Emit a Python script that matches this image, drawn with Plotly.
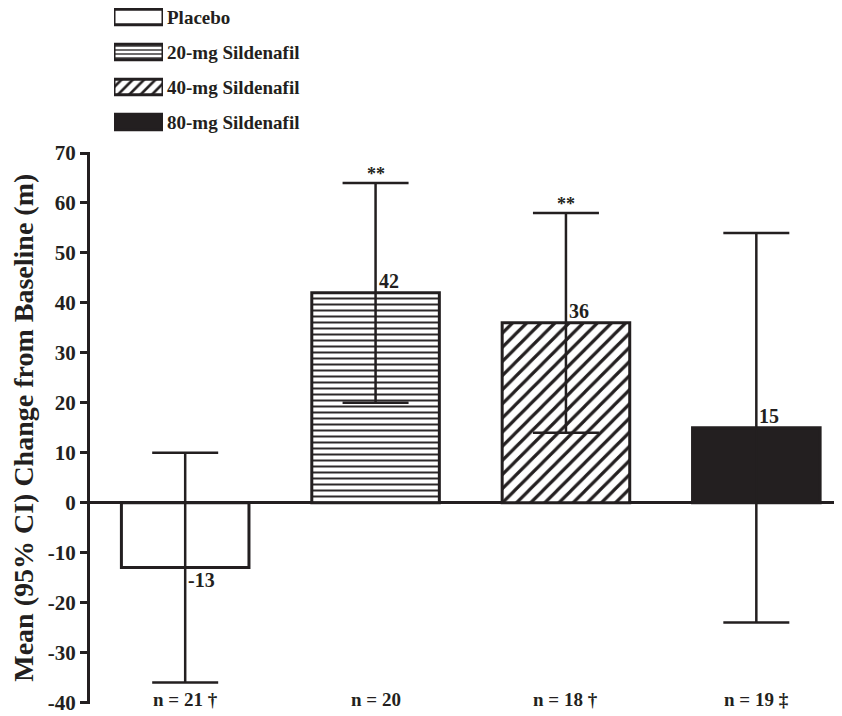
import plotly.graph_objects as go

# ---- data ----
groups = ["Placebo", "20-mg Sildenafil", "40-mg Sildenafil", "80-mg Sildenafil"]
means = [-13, 42, 36, 15]
ci_low = [-36, 20, 14, -24]
ci_high = [10, 64, 58, 54]
n_labels = ["n = 21 †", "n = 20", "n = 18 †", "n = 19 ‡"]
sig_marks = ["", "**", "**", ""]
y_ticks = [-40, -30, -20, -10, 0, 10, 20, 30, 40, 50, 60, 70]
y_tick_text = [str(v) for v in y_ticks]

# ---- styles ----
INK = "#231f20"
FONT = "Liberation Serif"
fill_colors = ["white", "white", "white", INK]
pattern_shapes = ["", "-", "/", ""]
pattern_sizes = [6, 6, 10, 6]

# page body adds an 8px offset; the figure fills the rest of the window
OFF = 8
W, H = 842 - OFF, 716 - OFF
ML, MR, MT, MB = 90 - OFF, 0, 0, 716 - 704
plot_w = W - ML - MR
plot_h = H - MT - MB


def py(screen_y):
    return (H - MB - (screen_y - OFF)) / plot_h


def px(screen_x):
    return (screen_x - OFF - ML) / plot_w


fig = go.Figure()

for g, m, lo, hi, col, shp, sz in zip(groups, means, ci_low, ci_high,
                                     fill_colors, pattern_shapes, pattern_sizes):
    pat = dict(shape=shp, fgcolor=INK, bgcolor="white", fillmode="replace",
               size=sz, solidity=0.32) if shp else dict(shape="")
    fig.add_trace(go.Bar(
        x=[g], y=[m], width=0.67,
        marker=dict(color=col, line=dict(color=INK, width=3), pattern=pat),
        error_y=dict(type="data", array=[hi - m], arrayminus=[m - lo],
                     color=INK, thickness=2.5, width=33, visible=True),
        showlegend=False, xaxis="x", yaxis="y",
    ))
    pat2 = dict(shape=shp, fgcolor=INK, bgcolor="white", fillmode="replace",
                size=max(sz - 2, 4), solidity=0.33) if shp else dict(shape="")
    fig.add_trace(go.Bar(
        x=[1], y=[g], orientation="h", width=0.44,
        marker=dict(color=col, line=dict(color=INK, width=3), pattern=pat2),
        showlegend=False, xaxis="x2", yaxis="y2", hoverinfo="skip",
    ))

annotations = []
for g, m, hi, s, n in zip(groups, means, ci_high, sig_marks, n_labels):
    annotations.append(dict(
        x=g, y=m, xref="x", yref="y", text=f"{m}", showarrow=False,
        xanchor="left", xshift=1,
        yanchor="bottom" if m >= 0 else "top",
        yshift=-1 if m >= 0 else 1,
        font=dict(family=FONT, size=20, color=INK, weight="bold"),
    ))
    if s:
        annotations.append(dict(
            x=g, y=hi, xref="x", yref="y", text=s, showarrow=False,
            xanchor="center", yanchor="bottom", yshift=-3,
            font=dict(family=FONT, size=18, color=INK, weight="bold"),
        ))
    annotations.append(dict(
        x=g, y=-40, xref="x", yref="y", text=n, showarrow=False,
        xanchor="center", yanchor="bottom", yshift=-9,
        font=dict(family=FONT, size=19, color=INK, weight="bold"),
    ))

fig.update_layout(
    width=W, height=H,
    margin=dict(l=ML, r=MR, t=MT, b=MB, autoexpand=False),
    paper_bgcolor="white", plot_bgcolor="white",
    barmode="overlay",
    xaxis=dict(domain=[0, 1], range=[-0.5, 3.45], showticklabels=False,
               showline=False, showgrid=False, zeroline=False, ticks="",
               anchor="y", fixedrange=True, automargin=False),
    yaxis=dict(domain=[0, py(151.5)], range=[-40.3, 70.3], tickvals=y_ticks,
               ticktext=y_tick_text, ticklabeloverflow="allow",
               showline=True, linewidth=3, linecolor=INK,
               ticks="outside", ticklen=7, tickwidth=3, tickcolor=INK,
               showgrid=False, zeroline=True, zerolinewidth=3,
               zerolinecolor=INK, anchor="x", automargin=False,
               tickfont=dict(family=FONT, size=21, color=INK, weight="bold"),
               title=dict(text="Mean (95% CI) Change from Baseline (m)",
                          font=dict(family=FONT, size=28, color=INK, weight="bold"),
                          standoff=8)),
    xaxis2=dict(domain=[px(114), px(163)], range=[0, 1], visible=False,
                anchor="y2", fixedrange=True, automargin=False),
    yaxis2=dict(domain=[py(142), 1], anchor="x2", side="right",
                range=[3.571, -0.257], showgrid=False, showline=False,
                zeroline=False, ticks="", ticklabelstandoff=3, automargin=False,
                ticklabeloverflow="allow",
                tickfont=dict(family=FONT, size=19, color=INK, weight="bold")),
    annotations=annotations,
)

fig.write_html("out.html")
